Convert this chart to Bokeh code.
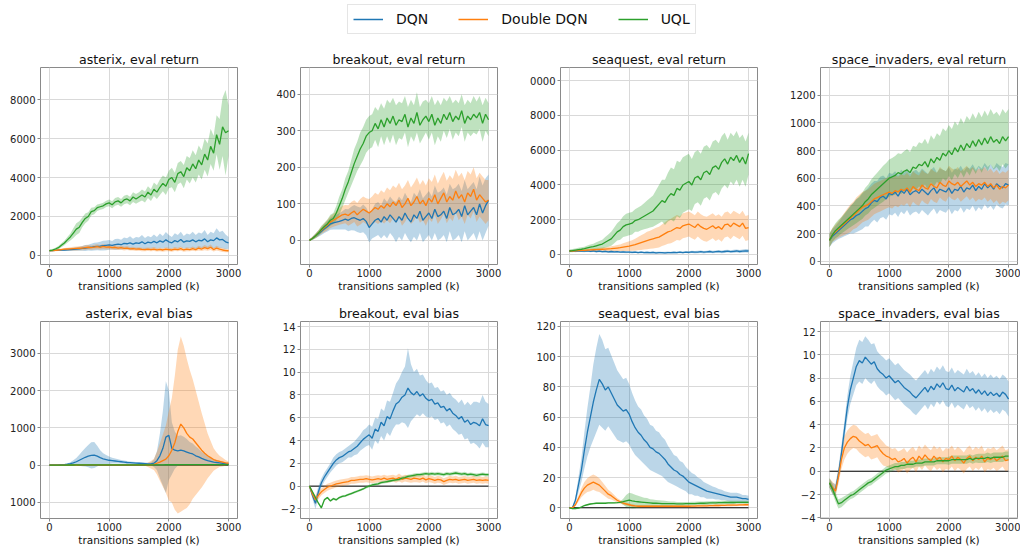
import numpy as np
from bokeh.plotting import figure
from bokeh.layouts import row, column
from bokeh.models import Range1d, FixedTicker, Legend, LegendItem
from bokeh.embed import file_html
from bokeh.resources import INLINE

# ---------------- data ----------------
X = list(range(0, 3001, 50))
METHODS = ["DQN", "Double DQN", "UQL"]
COLORS = ["#1f77b4", "#ff7f0e", "#2ca02c"]
X_TICKS = [0, 1000, 2000, 3000]
X_LABEL = "transitions sampled (k)"

asterix_ret_dqn = [250, 250, 260, 270, 270, 280, 290, 300, 310, 330,
                   340, 360, 380, 400, 420, 450, 470, 480, 500, 520,
                   540, 520, 560, 580, 550, 620, 600, 640, 580, 650,
                   620, 700, 600, 680, 640, 720, 650, 750, 680, 800,
                   700, 650, 760, 700, 820, 680, 750, 720, 800, 700,
                   780, 750, 850, 700, 800, 760, 900, 800, 820, 700,
                   650]
asterix_ret_dqn_sd = [30, 30, 30, 40, 40, 50, 60, 70, 80, 90,
                      100, 120, 150, 150, 180, 200, 200, 220, 250, 250,
                      250, 220, 280, 280, 250, 300, 280, 350, 280, 300,
                      300, 350, 300, 320, 300, 350, 300, 380, 320, 400,
                      350, 300, 380, 350, 400, 320, 380, 350, 420, 350,
                      400, 380, 450, 350, 420, 380, 500, 400, 450, 380,
                      300]
asterix_ret_ddqn = [250, 250, 260, 280, 300, 320, 330, 340, 350, 360,
                    370, 380, 400, 420, 400, 430, 450, 420, 460, 430,
                    440, 400, 420, 380, 400, 360, 380, 340, 350, 320,
                    330, 310, 300, 320, 300, 330, 290, 310, 280, 320,
                    300, 280, 330, 300, 350, 280, 320, 300, 350, 300,
                    380, 330, 400, 350, 420, 300, 380, 320, 280, 250,
                    240]
asterix_ret_ddqn_sd = [30, 30, 40, 50, 60, 60, 70, 80, 90, 100,
                       100, 110, 120, 120, 110, 120, 130, 120, 130, 120,
                       120, 110, 120, 100, 110, 100, 100, 90, 100, 90,
                       90, 90, 90, 90, 90, 100, 90, 90, 90, 100,
                       90, 90, 100, 90, 110, 90, 100, 90, 110, 90,
                       120, 100, 130, 110, 140, 100, 120, 100, 100, 90,
                       80]
asterix_ret_uql = [250, 270, 330, 400, 520, 640, 800, 950, 1150, 1350,
                   1450, 1700, 1900, 2000, 2250, 2300, 2450, 2500, 2550, 2650,
                   2700, 2600, 2750, 2800, 2700, 2850, 2900, 2800, 3000, 2900,
                   3000, 3100, 3000, 3250, 3100, 3400, 3250, 3500, 3700, 3550,
                   3900, 4000, 3750, 4200, 4300, 4050, 4500, 4350, 4700, 4450,
                   4900, 4650, 5200, 4900, 5600, 5250, 6200, 5700, 6600, 6300,
                   6400]
asterix_ret_uql_sd = [60, 60, 70, 80, 100, 120, 150, 180, 250, 300,
                      300, 250, 250, 220, 200, 180, 170, 160, 160, 160,
                      170, 180, 200, 200, 200, 220, 220, 220, 250, 250,
                      250, 280, 280, 300, 300, 350, 350, 400, 400, 450,
                      450, 500, 500, 550, 550, 600, 600, 650, 700, 700,
                      750, 750, 800, 850, 900, 900, 1000, 1300, 1500, 2200,
                      1300]

breakout_ret_dqn = [0, 6, 12, 18, 25, 32, 38, 45, 48, 50,
                    52, 55, 58, 55, 60, 62, 58, 55, 60, 52,
                    35, 45, 55, 60, 50, 65, 55, 70, 60, 50,
                    65, 55, 75, 60, 50, 70, 60, 80, 55, 65,
                    75, 60, 85, 65, 70, 80, 60, 90, 70, 75,
                    85, 65, 95, 70, 80, 90, 70, 100, 75, 95,
                    110]
breakout_ret_dqn_sd = [2, 4, 6, 8, 10, 12, 14, 16, 18, 20,
                       22, 25, 28, 30, 32, 35, 35, 35, 38, 38,
                       40, 40, 45, 45, 45, 50, 50, 50, 50, 55,
                       55, 55, 55, 55, 55, 60, 60, 60, 60, 60,
                       60, 60, 65, 65, 65, 65, 65, 65, 70, 70,
                       70, 70, 70, 70, 70, 70, 70, 75, 75, 75,
                       70]
breakout_ret_ddqn = [0, 6, 12, 20, 28, 35, 42, 50, 55, 60,
                     65, 70, 72, 68, 75, 80, 70, 78, 85, 80,
                     75, 82, 90, 85, 95, 88, 100, 92, 105, 95,
                     110, 90, 100, 115, 95, 105, 120, 100, 110, 95,
                     115, 105, 125, 100, 115, 130, 105, 120, 110, 135,
                     115, 125, 105, 130, 120, 140, 110, 125, 115, 105,
                     110]
breakout_ret_ddqn_sd = [2, 4, 6, 8, 10, 12, 14, 16, 18, 20,
                        22, 25, 25, 28, 30, 30, 32, 35, 35, 35,
                        38, 38, 40, 40, 42, 42, 45, 45, 45, 48,
                        48, 50, 50, 50, 50, 52, 52, 52, 55, 55,
                        55, 55, 55, 55, 58, 58, 58, 58, 58, 58,
                        60, 60, 60, 60, 60, 60, 60, 60, 60, 60,
                        55]
breakout_ret_uql = [0, 5, 12, 20, 30, 38, 45, 55, 60, 75,
                    95, 115, 140, 160, 185, 210, 230, 250, 265, 285,
                    295, 300, 320, 305, 330, 310, 335, 320, 340, 315,
                    330, 325, 345, 310, 335, 320, 350, 315, 330, 340,
                    325, 345, 315, 335, 320, 345, 330, 350, 325, 340,
                    330, 355, 320, 340, 330, 345, 335, 350, 320, 345,
                    330]
breakout_ret_uql_sd = [2, 4, 6, 8, 10, 10, 12, 15, 15, 20,
                       25, 25, 30, 30, 35, 40, 40, 45, 45, 45,
                       45, 45, 45, 50, 45, 50, 50, 55, 50, 55,
                       50, 50, 50, 55, 50, 50, 55, 50, 50, 45,
                       50, 50, 55, 50, 50, 45, 50, 45, 50, 45,
                       45, 45, 50, 45, 45, 50, 45, 45, 50, 45,
                       45]

seaquest_ret_dqn = [200, 210, 190, 210, 200, 190, 210, 180, 200, 170,
                    190, 160, 180, 150, 170, 150, 160, 140, 150, 130,
                    140, 120, 140, 110, 130, 110, 120, 100, 120, 90,
                    110, 100, 90, 110, 100, 120, 110, 130, 110, 140,
                    120, 150, 130, 140, 160, 130, 150, 170, 140, 160,
                    180, 150, 170, 190, 160, 180, 200, 170, 190, 210,
                    200]
seaquest_ret_dqn_sd = [60, 60, 60, 60, 60, 60, 60, 60, 60, 60,
                       60, 60, 60, 60, 60, 60, 60, 60, 60, 60,
                       60, 60, 60, 60, 60, 60, 60, 60, 60, 60,
                       60, 60, 60, 60, 60, 60, 60, 60, 60, 60,
                       60, 60, 70, 70, 70, 70, 70, 70, 70, 70,
                       80, 80, 80, 80, 80, 90, 90, 90, 90, 100,
                       100]
seaquest_ret_ddqn = [200, 200, 210, 220, 230, 240, 250, 260, 270, 280,
                     290, 300, 310, 320, 330, 350, 370, 390, 420, 450,
                     480, 520, 560, 620, 680, 740, 800, 850, 900, 950,
                     1000, 1100, 1200, 1300, 1350, 1450, 1550, 1500, 1650, 1700,
                     1750, 1650, 1550, 1750, 1600, 1500, 1450, 1550, 1650, 1500,
                     1600, 1450, 1700, 1750, 1600, 1800, 1700, 1600, 1800, 1500,
                     1550]
seaquest_ret_ddqn_sd = [60, 60, 60, 70, 70, 80, 80, 90, 90, 100,
                        100, 100, 120, 130, 140, 150, 170, 190, 220, 250,
                        280, 300, 350, 380, 420, 450, 500, 520, 550, 580,
                        600, 620, 650, 680, 700, 720, 720, 700, 720, 720,
                        720, 720, 700, 720, 720, 720, 720, 720, 720, 720,
                        720, 720, 720, 720, 720, 720, 720, 720, 720, 720,
                        720]
seaquest_ret_uql = [200, 220, 250, 280, 300, 330, 380, 420, 450, 500,
                    550, 600, 700, 800, 900, 1100, 1300, 1400, 1600, 1700,
                    1750, 1800, 1950, 2000, 2100, 2200, 2300, 2400, 2500, 2700,
                    2900, 3100, 3000, 3300, 3500, 3400, 3800, 3700, 4000, 4100,
                    4200, 4000, 4400, 4500, 4300, 4700, 4800, 4600, 5000, 5100,
                    4900, 5300, 5500, 5200, 5600, 5400, 5700, 5300, 5600, 5200,
                    5800]
seaquest_ret_uql_sd = [80, 90, 100, 100, 110, 120, 130, 150, 170, 200,
                       220, 250, 300, 350, 400, 450, 500, 550, 600, 650,
                       650, 650, 650, 700, 700, 750, 800, 850, 900, 1000,
                       1100, 1200, 1300, 1400, 1500, 1500, 1600, 1600, 1600, 1600,
                       1600, 1500, 1500, 1500, 1500, 1500, 1500, 1500, 1500, 1500,
                       1500, 1500, 1500, 1400, 1400, 1400, 1400, 1400, 1300, 1300,
                       1200]

si_ret_dqn = [150, 180, 200, 220, 240, 260, 280, 300, 310, 330,
              340, 360, 380, 390, 420, 440, 430, 460, 470, 450,
              490, 480, 500, 470, 510, 490, 520, 480, 500, 510,
              490, 520, 500, 480, 510, 530, 490, 520, 510, 500,
              530, 490, 520, 510, 540, 500, 530, 520, 550, 510,
              540, 520, 560, 530, 550, 520, 560, 540, 530, 560,
              550]
si_ret_dqn_sd = [50, 50, 55, 60, 70, 80, 90, 100, 110, 120,
                 120, 130, 130, 140, 140, 140, 150, 150, 150, 150,
                 150, 150, 150, 150, 150, 150, 150, 150, 150, 150,
                 150, 150, 150, 150, 150, 150, 150, 150, 150, 150,
                 150, 150, 150, 150, 150, 150, 150, 150, 150, 150,
                 150, 150, 150, 150, 150, 150, 150, 150, 150, 150,
                 150]
si_ret_ddqn = [150, 190, 210, 230, 250, 270, 290, 310, 330, 350,
               370, 390, 400, 410, 430, 450, 460, 470, 480, 490,
               500, 490, 510, 500, 520, 510, 530, 500, 540, 520,
               510, 550, 530, 520, 560, 540, 530, 570, 550, 540,
               580, 560, 550, 570, 540, 560, 580, 550, 570, 540,
               560, 550, 570, 540, 560, 530, 550, 520, 540, 530,
               550]
si_ret_ddqn_sd = [50, 50, 55, 60, 70, 80, 90, 100, 100, 110,
                  110, 110, 110, 110, 110, 110, 110, 110, 110, 110,
                  110, 110, 110, 110, 110, 110, 110, 110, 110, 110,
                  110, 110, 110, 110, 110, 110, 110, 110, 110, 110,
                  110, 110, 110, 110, 110, 110, 110, 110, 110, 110,
                  110, 110, 110, 110, 110, 110, 110, 110, 110, 110,
                  110]
si_ret_uql = [150, 190, 220, 240, 260, 280, 300, 320, 340, 360,
              380, 400, 430, 450, 480, 500, 520, 540, 560, 580,
              600, 610, 620, 640, 630, 650, 660, 640, 680, 670,
              700, 690, 720, 680, 740, 710, 750, 730, 780, 760,
              800, 770, 820, 790, 840, 800, 850, 820, 870, 830,
              880, 840, 890, 850, 900, 860, 880, 850, 900, 870,
              900]
si_ret_uql_sd = [50, 50, 55, 60, 60, 65, 70, 75, 80, 85,
                 90, 95, 100, 105, 110, 115, 120, 125, 130, 130,
                 135, 135, 140, 140, 145, 145, 150, 150, 155, 155,
                 160, 160, 165, 165, 170, 170, 175, 175, 180, 180,
                 185, 185, 190, 190, 195, 195, 200, 200, 200, 200,
                 200, 200, 200, 200, 200, 200, 200, 200, 200, 200,
                 200]

asterix_bias_dqn = [0, 0, 2, 5, 10, 15, 25, 40, 60, 90,
                    130, 170, 210, 240, 260, 270, 240, 200, 170, 150,
                    130, 120, 110, 100, 90, 80, 70, 65, 60, 55,
                    50, 45, 40, 35, 35, 50, 120, 250, 450, 750,
                    800, 450, 400, 380, 400, 380, 350, 320, 300, 250,
                    220, 180, 150, 120, 100, 80, 70, 60, 50, 40,
                    30]
asterix_bias_dqn_sd = [0, 2, 4, 6, 10, 15, 20, 40, 70, 100,
                       150, 200, 250, 300, 350, 350, 280, 200, 150, 120,
                       100, 80, 70, 60, 50, 45, 40, 35, 30, 30,
                       30, 30, 30, 30, 40, 100, 250, 600, 1000, 1500,
                       1200, 700, 500, 400, 400, 380, 350, 300, 280, 250,
                       220, 180, 150, 120, 100, 80, 70, 60, 50, 40,
                       30]
asterix_bias_ddqn = [0, 0, 0, 0, 1, 1, 2, 2, 3, 3,
                     4, 4, 5, 5, 5, 5, 5, 5, 5, 5,
                     5, 5, 5, 5, 5, 5, 5, 5, 5, 5,
                     5, 5, 5, 8, 10, 20, 50, 80, 120, 160,
                     250, 400, 600, 900, 1100, 1000, 850, 750, 700, 600,
                     500, 400, 320, 250, 200, 150, 120, 100, 80, 60,
                     50]
asterix_bias_ddqn_sd = [0, 1, 1, 1, 2, 2, 3, 3, 4, 4,
                        5, 5, 6, 6, 6, 6, 6, 6, 6, 6,
                        6, 6, 6, 6, 6, 6, 6, 6, 6, 6,
                        6, 6, 20, 60, 100, 150, 300, 500, 700, 900,
                        1200, 1400, 1800, 2200, 2350, 2200, 2000, 1800, 1600, 1400,
                        1200, 1000, 800, 600, 450, 300, 220, 150, 120, 80,
                        50]
asterix_bias_uql = [0, 0, 1, 1, 2, 2, 3, 3, 3, 4,
                    4, 4, 5, 5, 5, 5, 6, 6, 6, 6,
                    6, 6, 7, 7, 7, 7, 7, 7, 8, 8,
                    8, 8, 8, 8, 9, 9, 9, 9, 9, 10,
                    10, 10, 10, 10, 11, 11, 11, 11, 11, 12,
                    12, 12, 12, 12, 13, 13, 13, 13, 13, 14,
                    14]
asterix_bias_uql_sd = [0, 1, 1, 2, 2, 3, 3, 4, 4, 5,
                       5, 5, 5, 5, 5, 5, 5, 5, 5, 5,
                       6, 6, 6, 6, 6, 6, 6, 6, 6, 6,
                       7, 7, 7, 7, 7, 7, 7, 7, 7, 7,
                       8, 8, 8, 8, 8, 8, 8, 8, 8, 8,
                       9, 9, 9, 9, 9, 9, 9, 9, 9, 9,
                       9]

breakout_bias_dqn = [0.0, -0.8, -1.5, -0.5, 0.3, 0.8, 1.2, 1.6, 2.0, 2.3,
                     2.5, 2.6, 2.8, 3.0, 3.1, 3.3, 3.5, 3.8, 4.1, 4.3,
                     4.5, 4.2, 5.0, 4.8, 5.6, 5.3, 6.1, 5.9, 6.6, 7.2,
                     7.4, 7.8, 8.0, 8.6, 8.2, 8.0, 8.3, 7.9, 8.1, 7.7,
                     7.5, 7.6, 7.2, 7.3, 6.9, 7.0, 6.6, 6.8, 6.4, 6.2,
                     5.9, 6.1, 5.6, 5.8, 5.4, 5.6, 5.5, 5.3, 5.9, 5.4,
                     5.3]
breakout_bias_dqn_sd = [0.1, 0.3, 0.5, 0.5, 0.4, 0.4, 0.4, 0.4, 0.5, 0.5,
                        0.5, 0.5, 0.5, 0.5, 0.6, 0.6, 0.7, 0.7, 0.8, 0.8,
                        0.9, 1.0, 1.0, 1.1, 1.2, 1.3, 1.4, 1.5, 1.6, 1.8,
                        2.0, 2.2, 2.5, 3.5, 2.5, 2.0, 2.0, 1.8, 1.7, 1.6,
                        1.5, 1.5, 1.4, 1.4, 1.4, 1.4, 1.4, 1.4, 1.4, 1.4,
                        1.4, 1.5, 1.5, 1.6, 1.7, 1.8, 1.9, 2.0, 2.1, 2.0,
                        1.9]
breakout_bias_ddqn = [0.0, -0.7, -1.2, -0.8, -0.5, -0.3, -0.1, 0.0, 0.1, 0.2,
                      0.25, 0.3, 0.35, 0.4, 0.5, 0.5, 0.55, 0.6, 0.6, 0.65,
                      0.6, 0.55, 0.6, 0.65, 0.6, 0.7, 0.6, 0.65, 0.7, 0.6,
                      0.75, 0.6, 0.7, 0.65, 0.6, 0.7, 0.65, 0.6, 0.7, 0.55,
                      0.65, 0.6, 0.5, 0.6, 0.55, 0.4, 0.5, 0.6, 0.55, 0.6,
                      0.5, 0.55, 0.6, 0.5, 0.55, 0.6, 0.5, 0.55, 0.5, 0.55,
                      0.5]
breakout_bias_ddqn_sd = [0.1, 0.3, 0.4, 0.35, 0.3, 0.3, 0.3, 0.3, 0.3, 0.3,
                         0.3, 0.3, 0.3, 0.3, 0.3, 0.3, 0.3, 0.3, 0.3, 0.3,
                         0.3, 0.3, 0.3, 0.3, 0.3, 0.3, 0.3, 0.3, 0.3, 0.3,
                         0.35, 0.3, 0.3, 0.3, 0.3, 0.35, 0.3, 0.3, 0.3, 0.3,
                         0.3, 0.3, 0.3, 0.3, 0.3, 0.3, 0.3, 0.3, 0.3, 0.3,
                         0.3, 0.3, 0.3, 0.3, 0.3, 0.3, 0.3, 0.3, 0.3, 0.3,
                         0.3]
breakout_bias_uql = [0.0, -0.5, -1.0, -1.5, -1.9, -1.2, -1.0, -1.3, -1.1, -1.2,
                     -1.0, -0.9, -0.85, -0.75, -0.65, -0.55, -0.45, -0.35, -0.25, -0.1,
                     0.0, 0.1, 0.15, 0.2, 0.3, 0.35, 0.4, 0.45, 0.5, 0.55,
                     0.6, 0.7, 0.75, 0.85, 0.9, 0.95, 1.0, 1.0, 1.05, 1.1,
                     1.05, 1.1, 1.05, 1.1, 1.05, 1.0, 1.1, 1.05, 1.1, 1.15,
                     1.1, 1.05, 1.1, 1.0, 1.05, 1.0, 0.95, 1.0, 1.05, 1.0,
                     1.0]
breakout_bias_uql_sd = [0.05, 0.1, 0.1, 0.1, 0.1, 0.1, 0.1, 0.1, 0.1, 0.1,
                        0.1, 0.1, 0.1, 0.1, 0.1, 0.1, 0.1, 0.1, 0.1, 0.1,
                        0.12, 0.12, 0.12, 0.12, 0.12, 0.12, 0.12, 0.12, 0.12, 0.12,
                        0.15, 0.15, 0.15, 0.15, 0.15, 0.15, 0.15, 0.15, 0.15, 0.15,
                        0.15, 0.15, 0.15, 0.15, 0.15, 0.15, 0.15, 0.15, 0.15, 0.15,
                        0.15, 0.15, 0.15, 0.15, 0.15, 0.15, 0.15, 0.15, 0.15, 0.15,
                        0.15]

seaquest_bias_dqn = [0, 0, 5, 15, 25, 38, 50, 60, 70, 78,
                     85, 82, 78, 80, 76, 72, 68, 66, 64, 65,
                     62, 57, 53, 50, 48, 45, 43, 40, 39, 37,
                     36, 34, 32, 29, 27, 25, 24, 22, 21, 19,
                     17, 16, 15, 14, 13, 12, 11, 10.5, 10, 9.5,
                     9, 8.5, 8, 7.5, 7, 7, 7, 6.5, 6, 6,
                     5.5]
seaquest_bias_dqn_sd = [0.5, 0.5, 2, 5, 8, 12, 16, 20, 25, 28,
                        30, 29, 27, 26, 25, 24, 23, 22, 21, 21,
                        20, 19, 18, 17, 17, 16, 16, 15, 15, 14,
                        14, 13, 13, 12, 11, 10, 10, 9, 9, 8,
                        8, 7, 7, 6, 6, 5, 5, 4.5, 4, 4,
                        3.5, 3.5, 3, 3, 3, 3, 3, 3, 2.5, 2.5,
                        2.5]
seaquest_bias_ddqn = [0, 0, 2, 6, 10, 13, 15, 16, 17, 16,
                      15, 13, 11, 9, 8, 6.5, 5, 4, 3, 2.5,
                      2, 1.5, 1.2, 1, 1, 1, 1, 1, 1, 1,
                      1, 1, 1, 1, 1, 1, 1, 1, 1, 1,
                      1, 1.1, 1.1, 1.2, 1.2, 1.3, 1.3, 1.4, 1.4, 1.5,
                      1.5, 1.6, 1.6, 1.7, 1.7, 1.8, 1.8, 1.9, 1.9, 2,
                      2]
seaquest_bias_ddqn_sd = [0.3, 0.3, 1, 2, 3, 4, 4.5, 5, 5, 5,
                         4.5, 4, 3.5, 3, 2.5, 2, 1.5, 1.2, 1, 1,
                         0.8, 0.8, 0.8, 0.8, 0.8, 0.8, 0.8, 0.8, 0.8, 0.8,
                         0.8, 0.8, 0.8, 0.8, 0.8, 0.8, 0.8, 0.8, 0.8, 0.8,
                         0.8, 0.8, 0.8, 0.8, 0.8, 0.8, 0.8, 0.8, 0.8, 0.8,
                         0.8, 0.8, 0.8, 0.8, 0.8, 0.8, 0.8, 0.8, 0.8, 0.8,
                         0.8]
seaquest_bias_uql = [0, -0.5, -0.5, -0.3, 0.5, 1.5, 2, 2.5, 2.8, 3,
                     3, 3, 3, 3.2, 3.2, 3.3, 3.4, 3.6, 4, 4.5,
                     5, 4.5, 4.2, 4, 3.8, 3.6, 3.4, 3.2, 3, 3,
                     2.9, 2.8, 2.8, 2.7, 2.7, 2.7, 2.6, 2.6, 2.6, 2.7,
                     2.7, 2.8, 2.8, 2.9, 3, 3, 3.1, 3.2, 3.3, 3.3,
                     3.4, 3.4, 3.5, 3.5, 3.5, 3.5, 3.6, 3.6, 3.6, 3.6,
                     3.6]
seaquest_bias_uql_sd = [0.3, 0.5, 0.5, 0.5, 0.5, 0.5, 0.5, 0.5, 0.5, 0.5,
                        0.5, 0.5, 0.5, 0.5, 0.5, 0.5, 0.5, 0.5, 2, 4,
                        5, 5, 4.5, 4, 3.5, 3, 3, 2.5, 2.5, 2.2,
                        2, 2, 1.8, 1.6, 1.5, 1.4, 1.3, 1.2, 1.2, 1.2,
                        1.2, 1.2, 1.2, 1.2, 1.2, 1.2, 1.2, 1.2, 1.2, 1.2,
                        1.2, 1.2, 1.1, 1.1, 1.1, 1.1, 1.0, 1.0, 1.0, 1.0,
                        1.0]

si_bias_dqn = [-1.0, -1.5, -1.6, -0.3, 1.5, 3.5, 5.5, 7.0, 8.0, 9.0,
               9.5, 9.3, 9.8, 9.5, 9.2, 9.4, 8.8, 8.5, 8.3, 8.0,
               8.2, 7.9, 7.6, 7.8, 7.5, 7.2, 7.0, 6.8, 6.5, 6.3,
               6.6, 6.9, 7.2, 6.8, 7.3, 7.0, 7.5, 7.2, 7.6, 7.1,
               7.0, 7.4, 6.9, 7.2, 7.0, 6.8, 7.3, 6.9, 7.1, 6.7,
               7.0, 6.6, 6.9, 6.5, 6.8, 6.5, 6.7, 6.4, 6.8, 6.6,
               6.2]
si_bias_dqn_sd = [0.4, 0.5, 0.5, 0.6, 0.7, 0.8, 1.0, 1.2, 1.4, 1.6,
                  1.8, 1.8, 1.8, 1.8, 1.7, 1.6, 1.5, 1.5, 1.5, 1.5,
                  1.5, 1.5, 1.5, 1.5, 1.5, 1.5, 1.5, 1.5, 1.5, 1.5,
                  1.5, 1.5, 1.5, 1.5, 1.5, 1.5, 1.5, 1.5, 1.5, 1.5,
                  1.5, 1.5, 1.5, 1.5, 1.5, 1.5, 1.5, 1.5, 1.5, 1.5,
                  1.5, 1.5, 1.5, 1.5, 1.5, 1.5, 1.5, 1.5, 1.5, 1.5,
                  1.5]
si_bias_ddqn = [-1.0, -1.4, -1.7, -0.5, 1.0, 2.0, 2.5, 2.8, 3.0, 2.9,
                2.6, 2.4, 2.2, 2.3, 2.0, 2.1, 2.2, 1.8, 1.5, 1.3,
                1.2, 1.0, 1.1, 0.8, 0.9, 1.1, 0.7, 1.0, 1.2, 0.8,
                1.3, 1.0, 1.4, 1.1, 0.9, 1.3, 1.0, 1.2, 0.8, 1.1,
                1.0, 1.3, 0.9, 1.2, 1.0, 0.7, 1.1, 1.3, 0.9, 1.2,
                1.0, 1.3, 0.8, 1.1, 1.0, 1.2, 0.9, 1.1, 1.3, 0.9,
                1.0]
si_bias_ddqn_sd = [0.4, 0.5, 0.5, 0.6, 0.8, 1.0, 1.0, 1.0, 1.0, 1.0,
                   1.0, 1.0, 1.0, 1.0, 1.0, 1.0, 1.0, 1.0, 1.0, 0.9,
                   0.9, 0.9, 0.9, 0.9, 0.9, 0.9, 0.9, 0.9, 0.9, 0.9,
                   0.9, 0.9, 0.9, 0.9, 0.9, 0.9, 0.9, 0.9, 0.9, 0.9,
                   0.9, 0.9, 0.9, 0.9, 0.9, 0.9, 0.9, 0.9, 0.9, 0.9,
                   0.9, 0.9, 0.9, 0.9, 0.9, 0.9, 0.9, 0.9, 0.9, 0.9,
                   0.9]
si_bias_uql = [-1.0, -1.5, -2.2, -2.8, -2.7, -2.5, -2.3, -2.1, -2.0, -1.8,
               -1.6, -1.4, -1.2, -1.0, -0.9, -0.7, -0.5, -0.3, -0.1, 0.1,
               0.2, 0.3, 0.4, 0.4, 0.5, 0.5, 0.6, 0.6, 0.6, 0.7,
               0.7, 0.7, 0.8, 0.8, 0.8, 0.8, 0.9, 0.9, 0.9, 0.9,
               0.9, 1.0, 1.0, 1.0, 1.0, 1.0, 1.0, 1.1, 1.0, 1.1,
               1.1, 1.1, 1.1, 1.2, 1.1, 1.2, 1.2, 1.2, 1.2, 1.3,
               1.3]
si_bias_uql_sd = [0.4, 0.4, 0.4, 0.4, 0.4, 0.35, 0.3, 0.3, 0.3, 0.3,
                  0.3, 0.3, 0.3, 0.3, 0.3, 0.3, 0.3, 0.3, 0.3, 0.3,
                  0.3, 0.3, 0.3, 0.3, 0.3, 0.3, 0.3, 0.3, 0.3, 0.3,
                  0.3, 0.3, 0.3, 0.3, 0.3, 0.3, 0.3, 0.3, 0.3, 0.3,
                  0.35, 0.35, 0.35, 0.35, 0.35, 0.35, 0.35, 0.35, 0.35, 0.35,
                  0.4, 0.4, 0.4, 0.4, 0.4, 0.4, 0.4, 0.4, 0.4, 0.4,
                  0.4]

# y ticks per panel
asterix_ret_ticks = [0, 2000, 4000, 6000, 8000]
breakout_ret_ticks = [0, 100, 200, 300, 400]
seaquest_ret_ticks = [0, 2000, 4000, 6000, 8000, 10000]
si_ret_ticks = [0, 200, 400, 600, 800, 1000, 1200]
asterix_bias_ticks = [-1000, 0, 1000, 2000, 3000]
breakout_bias_ticks = [-2, 0, 2, 4, 6, 8, 10, 12, 14]
seaquest_bias_ticks = [0, 20, 40, 60, 80, 100, 120]
si_bias_ticks = [-4, -2, 0, 2, 4, 6, 8, 10, 12]

# ---------------- layout / style ----------------
FONT = "DejaVu Sans"
FRAME_W = 197
FRAME_H = 197
PITCH = 260
LEFT = 40

PANELS = [
    [("asterix, eval return",
      [(asterix_ret_dqn, asterix_ret_dqn_sd), (asterix_ret_ddqn, asterix_ret_ddqn_sd), (asterix_ret_uql, asterix_ret_uql_sd)],
      (-465, 9650), asterix_ret_ticks, {}, False),
     ("breakout, eval return",
      [(breakout_ret_dqn, breakout_ret_dqn_sd), (breakout_ret_ddqn, breakout_ret_ddqn_sd), (breakout_ret_uql, breakout_ret_uql_sd)],
      (-66, 473), breakout_ret_ticks, {}, False),
     ("seaquest, eval return",
      [(seaquest_ret_dqn, seaquest_ret_dqn_sd), (seaquest_ret_ddqn, seaquest_ret_ddqn_sd), (seaquest_ret_uql, seaquest_ret_uql_sd)],
      (-578, 10760), seaquest_ret_ticks, {10000: "0000"}, False),
     ("space_invaders, eval return",
      [(si_ret_dqn, si_ret_dqn_sd), (si_ret_ddqn, si_ret_ddqn_sd), (si_ret_uql, si_ret_uql_sd)],
      (-24, 1400), si_ret_ticks, {}, False)],
    [("asterix, eval bias",
      [(asterix_bias_dqn, asterix_bias_dqn_sd), (asterix_bias_ddqn, asterix_bias_ddqn_sd), (asterix_bias_uql, asterix_bias_uql_sd)],
      (-1432, 3852), asterix_bias_ticks, {-1000: "1000"}, True),
     ("breakout, eval bias",
      [(breakout_bias_dqn, breakout_bias_dqn_sd), (breakout_bias_ddqn, breakout_bias_ddqn_sd), (breakout_bias_uql, breakout_bias_uql_sd)],
      (-2.84, 14.44), breakout_bias_ticks, {-2: "\u22122"}, True),
     ("seaquest, eval bias",
      [(seaquest_bias_dqn, seaquest_bias_dqn_sd), (seaquest_bias_ddqn, seaquest_bias_ddqn_sd), (seaquest_bias_uql, seaquest_bias_uql_sd)],
      (-7.1, 123.3), seaquest_bias_ticks, {}, True),
     ("space_invaders, eval bias",
      [(si_bias_dqn, si_bias_dqn_sd), (si_bias_ddqn, si_bias_ddqn_sd), (si_bias_uql, si_bias_uql_sd)],
      (-4.06, 12.86), si_bias_ticks, {-4: "\u22124", -2: "\u22122"}, True)],
]


def make_panel(spec, col, top, bottom):
    title, series, yr, yticks, overrides, zero = spec
    right = 3 if col == 3 else PITCH - LEFT - FRAME_W
    p = figure(frame_width=FRAME_W, frame_height=FRAME_H,
               x_range=Range1d(-150, 3150), y_range=Range1d(*yr),
               output_backend="svg", toolbar_location=None, title=title,
               min_border_left=LEFT, min_border_right=right,
               min_border_top=top, min_border_bottom=bottom)
    p.title.align = "center"
    p.title.text_font = FONT
    p.title.text_font_size = "12.6px"
    p.title.text_font_style = "normal"
    p.title.text_color = "#111111"
    p.title.standoff = 1
    p.outline_line_color = "#8a8a8a"
    p.outline_line_width = 1
    p.xaxis.ticker = FixedTicker(ticks=X_TICKS)
    p.yaxis.ticker = FixedTicker(ticks=yticks)
    if overrides:
        p.yaxis.major_label_overrides = overrides
    p.xaxis.axis_label = X_LABEL
    p.xaxis.axis_label_text_font = FONT
    p.xaxis.axis_label_text_font_size = "10.5px"
    p.xaxis.axis_label_text_font_style = "normal"
    p.xaxis.axis_label_text_color = "#111111"
    p.xaxis.axis_label_standoff = 0
    for ax in (p.xaxis, p.yaxis):
        ax.axis_line_color = None
        ax.major_tick_in = 0
        ax.major_tick_out = 3
        ax.major_tick_line_color = "#8a8a8a"
        ax.minor_tick_line_color = None
        ax.major_label_text_font = FONT
        ax.major_label_text_font_size = "10px"
        ax.major_label_text_color = "#222222"
    p.xaxis.major_label_standoff = 1
    p.yaxis.major_label_standoff = 2
    p.grid.grid_line_color = "#d9d9d9"
    p.grid.grid_line_width = 1
    if zero:
        p.line([X[0], X[-1]], [0, 0], color="black", line_width=1)
    xs = np.array(X, dtype=float)
    for (mean, sd), color in zip(series, COLORS):
        m = np.array(mean, dtype=float)
        s = np.array(sd, dtype=float)
        p.varea(x=xs, y1=m - s, y2=m + s, fill_color=color, fill_alpha=0.3)
    for (mean, sd), color in zip(series, COLORS):
        p.line(xs, np.array(mean, dtype=float), line_color=color, line_width=1.3)
    return p


row1 = [make_panel(spec, i, 27, 31) for i, spec in enumerate(PANELS[0])]
row2 = [make_panel(spec, i, 26, 30) for i, spec in enumerate(PANELS[1])]

# legend strip (its sample lines sit outside the visible range)
lf = figure(width=PITCH * 3 + LEFT + FRAME_W + 3, height=40, output_backend="svg",
            toolbar_location=None, x_range=Range1d(0, 1), y_range=Range1d(0, 1),
            min_border=0)
lf.axis.visible = False
lf.grid.visible = False
lf.outline_line_color = None
items = []
for name, color in zip(METHODS, COLORS):
    r = lf.line(x=[5, 6], y=[5, 5], line_color=color, line_width=1.5)
    items.append(LegendItem(label=name, renderers=[r]))
leg = Legend(items=items, orientation="horizontal", location=(347, 6),
             label_text_font=FONT, label_text_font_size="14px", label_text_color="#111111",
             glyph_width=30, glyph_height=18, label_height=18, label_standoff=13,
             spacing=30, padding=5, margin=0,
             border_line_color="#cccccc", border_line_width=1, background_fill_alpha=1)
lf.add_layout(leg)

layout = column(lf, row(*row1), row(*row2))

open("out.html", "w").write(file_html(layout, INLINE))
